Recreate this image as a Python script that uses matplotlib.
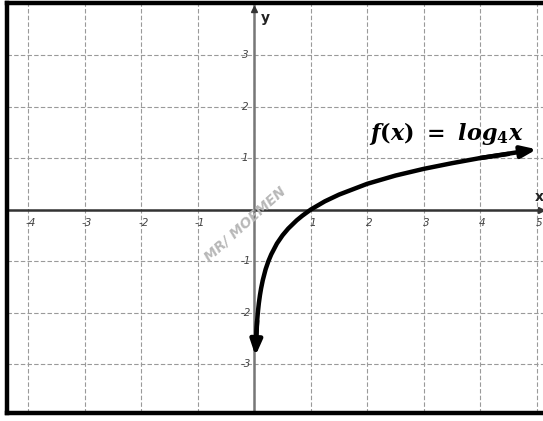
import numpy as np
import matplotlib
matplotlib.use("Agg")
import matplotlib.pyplot as plt

# points (x, y)
curveX = [0.02, 0.03, 0.04, 0.05, 0.06, 0.07, 0.08, 0.1, 0.12, 0.15, 0.2, 0.25,
          0.3, 0.4, 0.5, 0.6, 0.75, 0.85, 1.0, 1.25, 1.5, 2.0, 2.5, 3.0, 3.5,
          4.0, 4.5, 5.0]
curveY = [-2.82, -2.53, -2.32, -2.16, -2.03, -1.92, -1.82, -1.66, -1.53, -1.37,
          -1.16, -1.0, -0.87, -0.66, -0.5, -0.37, -0.21, -0.12, 0.0, 0.16, 0.29,
          0.5, 0.66, 0.79, 0.9, 1.0, 1.08, 1.16]
xTicks = [-4, -3, -2, -1, 1, 2, 3, 4, 5]
yTicks = [-3, -2, -1, 1, 2, 3]
gridX = [-4, -3, -2, -1, 0, 1, 2, 3, 4, 5]
gridY = [-3, -2, -1, 0, 1, 2, 3]

plt.rcParams["mathtext.fontset"] = "custom"
plt.rcParams["mathtext.it"] = "DejaVu Serif:italic:bold"
plt.rcParams["mathtext.rm"] = "DejaVu Serif:bold"
plt.rcParams["mathtext.bf"] = "DejaVu Serif:italic:bold"

fig = plt.figure(figsize=(5.43, 4.21), dpi=100)
ax = fig.add_axes([7 / 543, 8 / 421, 537 / 543, 410 / 421])
ax.set_xlim(-4.38, 5.13)
ax.set_ylim(-3.95, 4.01)
ax.set_xticks([])
ax.set_yticks([])

for s in ["left", "top", "bottom"]:
    ax.spines[s].set_linewidth(3.2)
    ax.spines[s].set_color("black")
    ax.spines[s].set_zorder(6)
ax.spines["right"].set_visible(False)

for gx in gridX:
    ax.axvline(gx, color="#9a9a9a", linewidth=0.8, linestyle=(0, (4, 2)), zorder=1)
for gy in gridY:
    ax.axhline(gy, color="#9a9a9a", linewidth=0.8, linestyle=(0, (4, 2)), zorder=1)

# axes lines
ax.axhline(0, color="#333333", linewidth=1.8, zorder=2)
ax.axvline(0, color="#777777", linewidth=1.8, zorder=2)
ax.plot([0], [3.9], marker="^", color="#333333", markersize=5, zorder=3, clip_on=False)
ax.plot([5.07], [0], marker=">", color="#333333", markersize=5, zorder=3, clip_on=False)
ax.text(0.2, 3.72, "y", fontsize=10, fontweight="bold", color="#222222", ha="center", va="center")
ax.text(5.05, 0.25, "x", fontsize=10, fontweight="bold", color="#222222", ha="center", va="center")

for t in xTicks:
    ax.text(t + 0.04, -0.27, str(t), fontsize=7.5, color="#444444", style="italic",
            ha="center", va="center")
for t in yTicks:
    ax.text(-0.16, t, str(t), fontsize=7.5, color="#444444", style="italic",
            ha="center", va="center")

# curve with arrowheads
ax.plot(curveX[1:-1], curveY[1:-1], color="black", linewidth=3.2, zorder=4,
        solid_capstyle="round", solid_joinstyle="round")
ax.annotate("", xy=(curveX[0], curveY[0] - 0.02), xytext=(curveX[3], curveY[3]),
            arrowprops=dict(arrowstyle="-|>,head_length=0.9,head_width=0.35",
                            color="black", linewidth=3.2, shrinkA=0, shrinkB=0), zorder=5)
ax.annotate("", xy=(curveX[-1], curveY[-1] + 0.01), xytext=(curveX[-3], curveY[-3]),
            arrowprops=dict(arrowstyle="-|>,head_length=0.9,head_width=0.35",
                            color="black", linewidth=3.2, shrinkA=0, shrinkB=0), zorder=5)

ax.text(3.4, 1.47, r"$f(x)\ =\ log_4x$", fontsize=16, color="black", ha="center", va="center")

ax.text(-0.17, -0.28, "MR/ MOEMEN", fontsize=10, color="#b8b8b8", style="italic",
        fontweight="bold", rotation=42, ha="center", va="center", zorder=2)

plt.savefig("out.png", dpi=100)
plt.close()
